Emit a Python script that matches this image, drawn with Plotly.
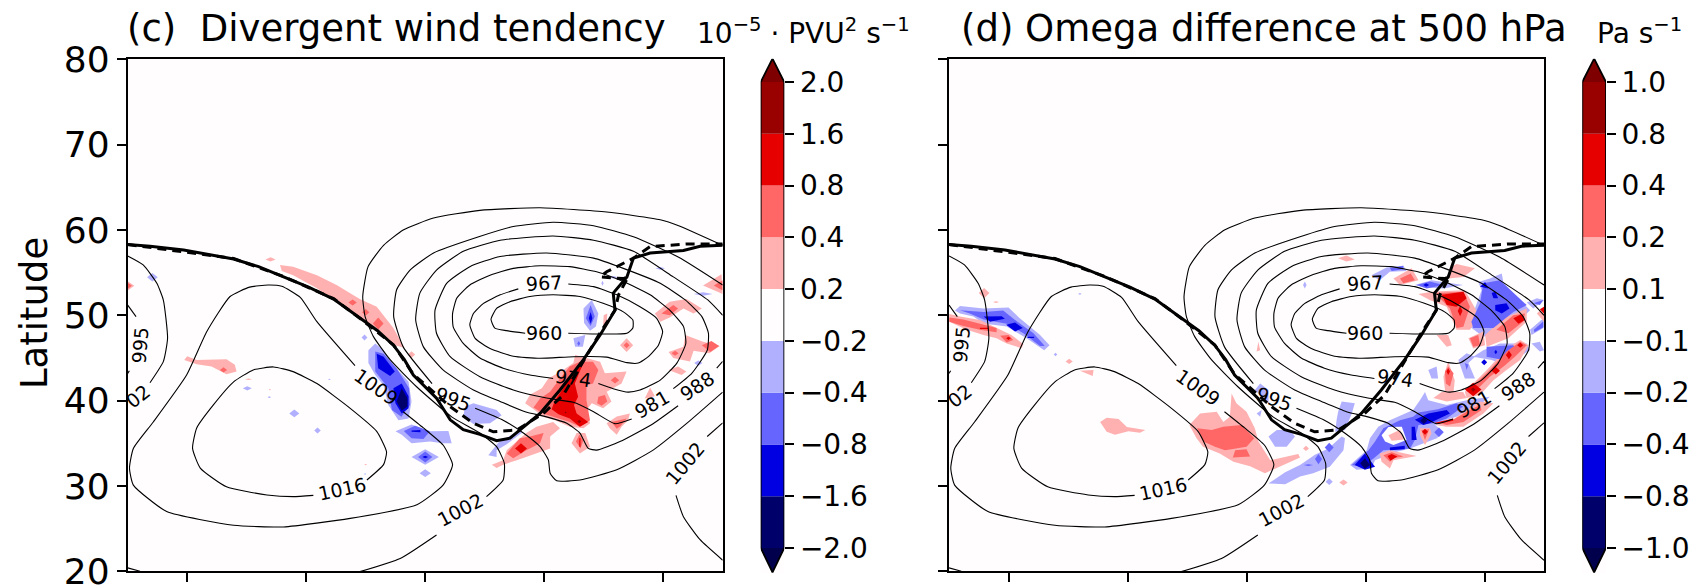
import plotly.graph_objects as go

def d(lon, lat, a, b):
    return [(lon - a, lat), (lon, lat + b), (lon + a, lat), (lon, lat - b)]

# ---------- sea level pressure contours (lon, lat) ----------
P960 = [(66.8,47.89),(63.7,48.2),(61.7,48.5),(61.06,49.53),(62,50.8),(64.25,51.6),(67.6,52.2),(71.5,52.4),(76,52.2),(79.9,51.4),(83.3,50.4),(84.9,49.45),(84.9,48.5),(83.9,47.9),(74.05,47.9)]
P967 = [(74.05,53.67),(78.3,53.36),(82.2,52.4),(86.1,51),(88.9,49.65),(89.9,48.1),(89.2,46.5),(87.5,45.15),(85.8,44.4),(83.9,44.45),(80.5,45.1),(74.9,45.15),(69.3,44.96),(64.8,45.2),(60.9,46.1),(58.4,47.3),(57.5,48.9),(58.1,50.2),(59.8,51.4),(62.6,52.4),(65.65,53.1)]
P974 = [(79.1,42),(81.6,41.4),(84.1,41),(86.1,41.25),(89.5,42.4),(92.3,44.4),(93.8,46.7),(93.4,48.7),(91.1,50.6),(87.8,52.4),(83.3,53.95),(78.8,55.1),(74.3,55.7),(69.3,55.8),(64.8,55.5),(60.9,54.7),(57.5,53.55),(55.3,52),(54.6,50.2),(54.7,48.65),(56.4,46.7),(59.2,45),(63.1,43.8),(67.6,43),(71.5,42.6)]
P981 = [(91.7,41.4),(94.8,43.2),(97.4,45.9),(97.6,47.9),(96.5,49.85),(93.7,51.8),(89.5,53.75),(83.3,55.5),(78.3,56.7),(70.4,57.3),(62.6,56.9),(57.5,55.7),(53.6,53.75),(51.65,50.6),(51.9,47.9),(54.2,45.15),(59.2,42.8),(64.8,41.25),(70.4,40.3),(74.9,39.8),(78.3,38.7),(81.9,37.3),(84.7,37.85)]
P988 = [(92.5,39.4),(88.3,37.3),(82.74,35.2),(78.8,34.2),(77.4,34.4),(76,36.2),(73.8,37.35),(70.4,38.1),(66.8,38.7),(62.6,39.9),(58.1,41.25),(53,43.6),(49.7,46.3),(48.4,49.45),(49.1,52.6),(51.9,55.3),(56.4,57.5),(62.6,58.8),(71.5,59.3),(78.3,58.8),(85,57.5),(91.7,54.5),(97.5,51.8),(100,50)]
P988_R = [(99,43.8),(100,44.6)]
P995 = [(51.15,42),(46.3,46.3),(44.7,49.85),(45.2,53),(47.45,55.3),(51.4,57.3),(59,59.2),(64.8,60.4),(71.5,60.9),(78.3,60.5),(85,59.2),(92.6,56.8),(100,53.55)]
P995_LOW = [(58.4,39.1),(63.1,37.7),(66.5,36.2),(69.3,34.6),(70.7,33.05),(71,31.5),(72.1,30.6),(76,30.7),(82.2,31.9),(88.3,34.2),(93.9,37.3),(100,41)]
P995_W1 = [(0,51.2),(1.4,49.85)]
P995_W2 = [(0.28,43.5),(0,43.2)]
P1002 = [(60.3,28.75),(63.1,30.7),(63.3,32.65),(62,34.6),(59.2,36.2),(54.45,38.1),(48.6,41.6),(44.1,44.8),(41.3,47.5),(39.9,49.85),(39.5,52.2),(40.4,55.7),(43,58.2),(46.3,60),(51.4,61.4),(59.2,62.3),(69.3,62.6),(80.5,62.1),(89.5,61.2),(92.6,60.5),(100,58.2)]
P1002_S = [(51.9,24.26),(45.8,21.5),(39.05,19.96)]
P1002_SW = [(0,20.4),(2.07,20)]
P1002_W = [(0,56.95),(2.6,55.9),(4.9,53.75),(6,51.76),(6.7,47.3),(6,44.6),(3.75,42.1)]
P1002_E1 = [(100,37.4),(97.4,35.8)]
P1002_E2 = [(92.15,28.9),(93.4,26.4),(96.2,23.7),(100,21.3)]
P1009 = [(38.2,44.1),(31.8,49.25),(29,52.1),(25.9,53.4),(23.6,53.55),(20.5,53.3),(17.2,52.2),(13.3,48.1),(9.9,43),(4.3,37.5),(0.95,34.4),(0.3,32.1),(0.95,30.1),(6.55,27),(17.8,25.4),(26.2,25.2),(37.4,26.2),(48.6,27.8),(53,30.1),(54.6,32.5),(53,34.8),(49.7,36.8),(46.3,38.7)]
P1016 = [(31.2,28.9),(27.8,28.75),(23.4,28.95),(16.6,29.9),(12.2,32.1),(10.9,34.4),(11.6,36.8),(14.4,39.5),(17.8,42.2),(21.1,43.6),(24.5,43.95),(27.8,43.4),(31.8,42),(37.4,39.1),(41.85,36.4),(43.5,34),(43,32.5),(40.2,30.7)]
CONTOURS = [P960,P967,P974,P981,P988,P988_R,P995,P995_LOW,P995_W1,P995_W2,P1002,P1002_S,P1002_SW,P1002_W,P1002_E1,P1002_E2,P1009,P1016]

LABEL_TEXT = ["960","967","974","981","988","995","995","1002","02","1002","1009","1016"]
LABEL_LON = [69.9,69.9,74.9,88.2,95.7,54.7,2.1,55.8,1.8,93.7,41.8,36]
LABEL_LAT = [47.9,53.75,42.6,39.55,41.7,40.2,46.5,27.2,40.5,32.65,41.6,29.7]
LABEL_ANGLE = [0,-3,8,-30,-33,20,-85,-28,-38,-50,35,-12]

FRONT_SOLID = [(0,58.3),(3.75,58.1),(9.4,57.65),(17.8,56.6),(22,55.7),(26.2,54.5),(30.4,53.3),(34.6,51.9),(37,50.7),(39.3,49.45),(42,48.2),(44.65,46.5),(46.5,44.8),(48,43),(50,41.6),(51.9,40.3),(54.2,37.75),(56.4,36.6),(59.2,36.05),(62,35.3),(64.25,35.6),(69.3,38.5),(72.65,41.25),(76.6,44.8),(79.4,47.7),(81.9,50.6),(81.6,52.6),(83.9,54.5),(85,56.7),(87.8,57.3),(93.4,57.6),(96.2,58.1),(100,58.2)]
FRONT_DASH = [(0,58.3),(17.8,56.65),(26.2,54.55),(34.6,51.95),(39.3,49.5),(44.65,46.55),(48,43.1),(51.9,40.65),(54.2,39.3),(58.1,37.35),(61.45,36.35),(65.4,36.56),(69.85,38.5),(73.2,40.65),(76.6,44.6),(79.7,48.3),(81.9,50.6),(82.5,52.4),(84.1,54.5),(83.3,54.3),(79.4,54.5),(80.5,55.1),(85,56.7),(87.8,58.05),(93.9,58.35),(100,58.35)]

# ---------- panel (c) shading, one list per colour band ----------
C_LIGHT_RED = [
 [(25.6,55.9),(27.8,55.7),(31.8,54.7),(35.1,53.55),(39,51.9),(41.85,51),(44.65,48.5),(46.5,46.2),(44.9,46.5),(41.85,48.5),(39.6,49.25),(35.7,51.2),(31.8,53.16),(27.8,54.7),(25.9,55.2)],
 d(24,56.55,.85,.25),
 [(9.5,44.75),(10,45.2),(11.6,44.75),(16.6,44.85),(18,44.2),(18.3,43.4),(16.6,43.1),(14.1,44),(11.6,44.25)],
 d(47.7,45.4,.6,.4), d(20.3,42.5,.6,.08), d(40,32.5,.25,.08), d(23.9,41.3,.15,.1),
 [(0,54),(1.1,53.45),(0,52.9)], [(96.7,53.5),(99.8,54.8),(100,52.5)],
 [(75.2,45.35),(79.4,44.55),(80.2,43.2),(83.85,43.4),(83,42),(80.5,41.05),(81.3,39.9),(79.9,39.1),(78,39.7),(77.1,38.9),(77.7,37.35),(76.6,36.75),(74.3,36.95),(71.8,37.7),(69.8,38.1),(68.4,38.9),(66.8,39.7),(67.6,40.7),(69.6,41.45),(70.7,42.6),(73.2,43.6),(74.9,44.4)],
 [(80.5,37.35),(82.2,38.15),(84.4,38.5),(84.1,37.7),(83,36.95),(82.2,36),(81,36.75)],
 d(83.85,46.5,1.1,.8),
 [(88.6,50.2),(91.1,51.6),(93.9,51.9),(96.5,50.8),(95.1,50.2),(93.4,50.8),(91.1,49.75),(89.5,49.25)],
 [(90.9,45.7),(93.4,46.3),(93.7,47.7),(96.7,46.9),(99.5,46.4),(97.75,45.55),(95.1,45.85),(94.5,44.6),(91.7,45)],
 [(90.9,43.6),(92.5,44),(93.9,43.4),(93.1,43)],
 [(87.8,41.55),(88.6,40.5),(86.9,40.25)],
 [(80,50),(80.6,50.2),(80.5,49),(79.9,48.8)],
 [(61.2,32.5),(63.1,33),(63.7,34.2),(67,36.2),(68.7,36.95),(71.5,37.5),(72.65,36.75),(71,35.8),(71,34.4),(68.7,33.8),(65.4,33),(63.1,32.5),(62,32.1)],
 [(74.6,35),(75.45,36.2),(76.9,36.2),(77.7,34.6),(76,33.8)],
]
C_MID_RED = [
 d(37.8,51.5,.7,.35), d(40,50.35,.6,.4), d(42.1,49.05,.9,.7), d(16.1,43.6,.6,.3),
 [(0,53.8),(.7,53.45),(0,53.1)], [(98.5,53.5),(100,54.1),(100,52.9)],
 [(76,44.55),(78.2,44.55),(79.1,43.6),(78.2,42),(77.1,41.8),(77.1,40.05),(77.7,37.7),(76,36.95),(74.3,37.5),(71.8,38.1),(69.8,38.5),(68.2,39.2),(69.3,40.25),(71,41.05),(72.65,42.6),(74.3,44)],
 [(79.1,40.45),(80.2,40.65),(80.6,39.9),(79.65,39.4),(78.9,39.7)],
 d(81.9,42.4,.7,.4),
 [(81.3,37.5),(83.85,37.9),(82.8,37),(82.2,36.7)],
 d(83.85,46.5,.5,.35),
 [(89.7,50.2),(91.7,51.2),(92.5,50.8),(91.1,50)],
 [(96.5,46.5),(98.1,47),(99.4,46.4),(97.9,45.7)], d(92,45.55,.6,.3),
 [(63.7,33.8),(65.9,35.6),(67.6,35.8),(69.9,36.2),(69.3,35),(67,34.2),(64.8,33.25)],
 [(75.35,35.2),(75.9,36),(76.6,35.4),(76.1,34.4)],
]
C_DARK_RED = [
 [(76,44.55),(76.45,44.2),(75.15,42),(75.7,40.45),(75,39.5),(75.45,38.5),(77.4,37.5),(76,36.95),(74.3,37.9),(72.4,38.4),(71.25,39),(71.8,40.05),(73.2,41.45),(74.6,43)],
 d(66.1,34.4,1,.6),
 [(75.9,35.6),(76.1,35.6),(76.1,34.6),(75.9,34.6)],
]
C_DEEP_RED = [d(75.9,37.55,.35,.2), d(73.6,38.6,.2,.12)]
C_LIGHT_BLUE = [
 [(40.45,45.9),(41.6,46.7),(43,45.9),(44.65,44.2),(47.2,42.2),(47.7,39.9),(47.2,37.9),(45.5,37.7),(43.8,39.5),(43,41.8),(41.6,43),(40.45,44.4)],
 [(45,36.4),(47.7,37.2),(50.8,36.4),(53.9,36.45),(54.45,35),(53,35),(50.8,35.2),(47.7,35),(46.05,36)],
 d(50,33.4,2.3,.9), d(50,31.5,.95,.45), d(28,38.5,.85,.45), d(31.9,36.5,.55,.35), d(20.1,41.45,.75,.25),
 d(23.8,40.4,.3,.1), d(33.9,42.5,.25,.07), d(39.8,47.4,.5,.35), d(4.15,54.45,.9,.5), d(39.9,31.4,.2,.08),
 [(56.7,39.3),(58.1,39.7),(62,38.9),(62.85,38.3),(60.9,37.35),(58.1,37.25),(56.4,38.1)],
 [(60.6,33.6),(62.3,35.1),(65.4,36.35),(66.2,37.15),(66.2,36.2),(63.7,34.9),(62,34.2),(62,33.4)],
 [(78,51.8),(79.1,50.2),(78.7,48.7),(77.7,48.2),(76.7,49.1),(76.6,50.8)],
 [(74.9,47.3),(76.9,47.7),(76.5,46.3),(75.2,46.3)],
 d(95.9,44.4,.7,.3), d(96.7,52.5,1.6,.2), d(89.5,55.5,.8,.15), d(81.6,54.45,.8,.15), d(79.8,53.75,.2,.3),
]
C_MID_BLUE = [
 [(41.6,45.75),(43,45.5),(45.2,43.8),(47.3,41.45),(47.45,39.5),(46,38.1),(44.4,38.9),(43.8,41.45),(41.6,43.4)],
 [(46.4,36.45),(48.3,37.05),(50.8,36.4),(49.7,35.5),(47.7,35.6)],
 d(50,33.4,1.2,.65),
 [(77.8,51.2),(78.5,49.85),(77.8,48.75),(77,49.65)], d(75.8,46.7,.25,.3),
]
C_DARK_BLUE = [
 [(41.85,45.5),(43,45.15),(44.9,43.4),(44.1,42.9),(42.1,43.8)],
 [(44.65,41.45),(46.05,42),(47.2,40.5),(47.2,39.1),(46.05,38.5),(45,39.7)],
 [(47.7,36.5),(49.2,36.55),(49.2,36.3),(47.7,36.35)], d(50,33.4,.5,.15),
 [(77.8,50.4),(78.1,49.65),(77.8,49),(77.5,49.65)],
]
C_DEEP_BLUE = [[(46.05,41.45),(47,40.3),(47,39.3),(46.05,38.8),(45.2,39.9)]]

# ---------- panel (d) shading ----------
D_LIGHT_BLUE = [
 [(1,50.55),(1.85,51.1),(5.8,50.8),(10,50.9),(11.9,49.65),(15.3,47.7),(16.9,46.5),(16,45.9),(13.05,47.3),(9.7,48.7),(5.8,49.05),(4.1,49.85),(1.85,50.2)],
 d(17.9,45.4,.3,.2), d(22,52.5,.3,.1),
 [(53.7,35.8),(55.1,36.55),(57.3,36.55),(58.15,35.8),(56.75,34.6),(54.8,34.6)],
 [(51.7,38.5),(52.55,38.9),(52.3,38.1)], [(51.4,41.25),(52.3,42),(53.7,41.25),(53.7,39.7)],
 [(65.4,38.7),(66,39.9),(68.2,39.7),(67.7,38.5),(66.55,36.55),(64.9,36.35),(65.15,37.75)],
 [(53.7,30.3),(56.5,31.6),(59,32.45),(61.5,33.65),(63.75,34.4),(66,35.8),(66.55,35.6),(66.3,34.2),(64,32.25),(61.2,31.5),(59,31.1),(56.5,30.2)],
 [(67.4,32.45),(70.2,34.2),(70.75,35.6),(72.15,36.95),(74.1,37.7),(78,38.9),(79.15,40.05),(80,41),(80.55,40.05),(83.65,39.5),(87,40.05),(90.9,40.45),(88.1,38.9),(85.3,38.1),(83.65,37.75),(81.7,37.15),(83.1,36.35),(82,35.6),(80.55,35.2),(79.15,34.8),(77.5,34.4),(75.25,34),(71.6,33),(71,32.05),(68.5,31.9)],
 [(71,54.7),(73.55,55.6),(76.35,55.8),(76.9,55.2),(74.1,55.1),(72.4,54.1)], d(59.8,53.55,.3,.4),
 [(78.3,53.55),(81.1,54.1),(86.4,53.55),(83.1,53.15),(79.7,53.3)],
 [(88.95,53.9),(90.9,54.3),(92.9,54.9),(93.2,53.75),(97.65,50.6),(94.85,48.65),(92,47.9),(89.8,47.5),(87.55,48.65),(88.1,50.2),(89.5,52.95)],
 [(89.8,45.9),(92.6,46.7),(97.1,46.7),(97.65,45.9),(94.85,44.75),(93.2,44.2),(91.2,44.75),(88.1,45.15)],
 [(80.55,43.6),(81.95,44),(82.2,42.6),(81.1,42.6)],
 [(85.6,44.75),(87,45.55),(88.4,45.15),(87.3,44.4),(88.4,42.6),(86.7,42.6)],
 [(97.1,51.5),(98.8,52),(100,51.8),(98.2,50.8)], [(97.65,48.3),(99.9,49.65),(99.9,48.5),(97.9,47.7)],
 [(97.9,46.7),(99.3,46.9),(100,45.9),(99.3,45.75)], d(63.9,30.5,.6,.4),
]
D_LIGHT_RED = [
 [(0.05,50.15),(1.85,49.85),(5.2,49.45),(8,48.5),(10.5,47.7),(12.5,46.6),(12.2,46.15),(9.7,46.7),(8,47.3),(5.8,47.7),(3,48.3),(0.05,49.25)],
 d(5.9,52.6,.9,.6), d(7.9,51.55,.5,.1), d(20.2,44.6,.6,.3),
 [(22,43.5),(24.3,43.6),(24.15,42.9)],
 [(25.4,37.5),(26.5,38),(28.5,37.85),(29.9,36.9),(33,36.55),(32.1,36.25),(30.15,36.4),(27.9,36),(26.5,36.35)],
 [(40.4,37.15),(42.2,38.5),(45,38.7),(46.1,37.5),(47.2,38.1),(47.5,40.85),(48.3,39.7),(50,38.7),(51.4,36.75),(52,35.2),(54,33),(58.7,33.75),(59,33.35),(55.1,32.1),(53.1,31.5),(50.6,32.3),(47.8,32.85),(45.5,33.8),(42.7,34.6),(41.6,35.6)],
 [(52,46.9),(52.3,45.9),(51.7,45.75)],
 [(72.4,33.8),(74.1,34.2),(78.6,33.5),(74.7,33),(74.1,32.05),(72.7,32.85)],
 [(79.15,36.75),(80.85,36.75),(81.1,36.15),(80,34.8),(79.15,35.95)],
 [(86.7,41.05),(90.4,43.6),(93.7,46.1),(96,47.1),(97.4,46.5),(96,44.75),(93.7,43.6),(91.5,42.4),(89.25,40.65),(87,40.3)],
 [(81.4,40.3),(82.8,41),(86.4,41),(87,40.3),(83.65,39.9)],
 [(83.1,42.8),(83.9,44.6),(85,42.4),(84.8,41.05),(83.4,41.05)],
 [(81.7,37.15),(84.2,37.5),(86.45,38.7),(89.2,39.9),(91.5,39.7),(89.8,38.5),(86.45,36.95),(83.65,36.95)],
 [(65.4,56.7),(66.8,57),(68.2,56.55),(66.8,56.3)],
 [(74.7,54.3),(77.75,55.5),(78.9,54.1),(75.8,53.55)],
 [(84.5,55.7),(85.3,56),(88.4,55.5),(86.45,54.5),(83.9,54.3)],
 [(78.9,52.5),(81.4,52.8),(86.7,52.95),(89.2,49.85),(87.55,48.3),(85.3,48.3),(83.65,51),(80.8,51.8)],
 [(81.95,47.7),(83.9,47.7),(84.5,46.5),(83.65,46.3)],
 [(90.1,47.7),(93.2,49.65),(97.1,50.8),(97.1,49.25),(94,47.3),(90.35,46.3)],
 [(87.3,47.3),(89.8,48.1),(90.1,46.5),(88.1,46.1)],
 [(98.8,50.2),(100,51),(100,49.25)], d(66.3,30.4,.7,.35), d(60,34.4,.5,.3),
]
D_MID_BLUE = [
 [(1.85,50.6),(5.8,50.4),(9.1,50.55),(11.1,49.45),(14.2,47.9),(16.1,46.4),(15.3,46.4),(12.5,47.9),(9.7,49),(5.8,49.5),(3.5,50.2)],
 d(62.1,33.15,.6,.6), d(63.9,34.5,.75,.55), d(60.4,32.45,.8,.1), d(82.35,36.3,.8,.55),
 [(71.6,35.2),(73,36.75),(75.8,37.7),(78,38.1),(78.9,38.6),(82.2,39),(85.3,39.7),(86.4,39.3),(83.65,37.9),(81.4,37.35),(78.9,37.15),(78.3,35.4),(77.5,34.4),(73,34.2),(71.3,33.2),(69.35,32.25),(67.7,32.45),(70.5,34.2)],
 [(74.1,55.5),(76.35,55.8),(76.35,55.4),(74.4,55.2)],
 [(78.6,53.55),(80.8,53.95),(83.1,53.55),(80.3,53.15)],
 [(89.8,53.75),(92.6,54.1),(97.1,51.2),(94.85,50.4),(91.5,48.5),(88.1,48.5),(87.8,49.25),(89.25,51.4)],
 [(90.35,46.3),(94.85,46.5),(95.4,45.9),(93.2,44.75),(90.35,45.15)],
 [(86.7,44.4),(87.3,44.2),(87,43.6)], [(98.2,51.4),(99.9,51.8),(99.3,51.2)],
 [(98.3,48.3),(99.9,49.3),(99.9,48.6),(98.4,48)],
]
D_GAP = [[(72.7,35.95),(73.85,36.9),(76.1,36.95),(76.9,35.4),(74.7,34.8),(73.3,35.2)]]
D_GAP_RED = [[(73.85,35.95),(75.8,36.6),(76.5,35.45),(74.4,35.3)]]
D_MID_RED = [
 [(0.05,49.75),(2.4,49.5),(5.2,49),(8,48.5),(8,48),(5.2,48.3),(2.4,48.75),(0.05,49.25)],
 [(8.6,47.6),(10,47.7),(10.8,47.1),(9.7,46.8)],
 [(41.7,36.75),(44.15,36.55),(46.1,36.95),(49.2,37.15),(51.3,35.6),(50,34.6),(46.4,34.2),(44.7,34.6),(42.75,35.2)],
 [(48.1,34.2),(50,34.3),(50.6,33.45),(47.7,33.35)],
 [(73,33.6),(74.4,33.95),(76.35,33.45),(74.7,33.25),(74.1,32.85)],
 [(79.4,36.55),(80.7,36.65),(80,35.4)],
 [(87.3,41.25),(90.65,43.4),(93.7,45.75),(96,46.9),(97.1,46.5),(95.1,45.15),(93.2,44),(90.9,42.8),(89.25,41.65),(87.55,40.85)],
 [(83.35,43.4),(83.9,44),(84.8,43.2),(84.2,41.65),(83.5,42)],
 [(82.5,37.35),(84.75,37.75),(87,38.7),(89.2,39.5),(89.5,38.9),(86.45,37.5),(83.65,37.15)],
 [(75.8,54.3),(77.6,54.9),(78.3,54.1),(76.35,53.75)],
 [(81.95,52.6),(86.45,52.75),(87.55,51),(86.45,48.65),(85.3,48.5),(84.2,50.8),(82.8,51.8)],
 [(92,48.3),(94.85,50),(96.8,50.2),(96.5,49.25),(94,47.9)],
 [(87.55,47.3),(88.95,47.7),(89.25,46.5),(88.1,46.3)],
]
D_DARK_BLUE = [
 [(5.8,49.85),(8.85,49.9),(9.4,49.6),(6.9,49.25)], [(9.6,48.9),(11.1,49.15),(12.4,48.5),(11.1,48.1)],
 [(13.2,47.5),(14.3,47.5),(14.3,47.35),(13.2,47.35)],
 [(74.1,34.5),(76.6,34.7),(76.6,34.3),(74.1,34.2)],
 [(68.2,32.45),(69.9,33.8),(71.6,32.25),(69.9,31.9)],
 [(78.3,37.75),(80.55,38.5),(83.65,38.9),(84.2,38.5),(81.95,37.75),(80.8,37.35),(79.7,37.15)],
 [(77.75,36.95),(78.3,36.95),(78.6,35.4),(77.75,35.4)], d(80.2,53.55,.5,.2),
 [(89.25,53.35),(90.1,53.9),(90.65,53.15)], [(91.2,52.6),(91.8,52.75),(92.3,52),(91.5,52)],
 [(91.8,51.2),(93.7,51.4),(94.2,50.8),(92.9,50.2),(91.8,50.6)],
 d(89.95,44.5,.5,.35), d(91.9,45.7,.25,.25),
]
D_DARK_RED = [
 [(5.2,48.55),(6.6,48.55),(6.6,48.4),(5.2,48.4)], d(10,47.3,.4,.2),
 [(73.7,33.5),(74.4,33.75),(75.35,33.45),(74.2,32.95)], d(80,36.35,.5,.35),
 d(88.1,41.3,1.4,.8), d(91.9,43.5,.7,.45), d(94.1,45.35,.5,.5), d(96,46.5,.5,.3),
 d(83.9,43.4,.3,.4),
 [(81.7,37.4),(84.75,37.9),(84.75,37.65),(82,37.25)],
 [(82.8,52.4),(86.45,52.75),(87,52),(85.3,51),(83.65,51.2)], d(85.9,50.5,.4,.6),
 [(94.85,49.65),(96.25,50.15),(96.8,49.45),(95.7,49)],
 [(99.3,50.7),(100,51),(100,50.2)],
]
D_DEEP_BLUE = [[(69.1,32.65),(69.9,33.25),(70.75,32.45),(69.9,32)], d(79.8,37.65,.6,.4)]
D_DEEP_RED = [d(88.1,41.3,.4,.25)]

# ---------- colour bars ----------
CB_C_LEVELS = ["−2.0","−1.6","−0.8","−0.4","−0.2","0.2","0.4","0.8","1.6","2.0"]
CB_D_LEVELS = ["−1.0","−0.8","−0.4","−0.2","−0.1","0.1","0.2","0.4","0.8","1.0"]
CB_COLORS = ["#00006B","#0000E2","#6666FF","#B0B0FF","#FFFDFE","#FFB0B0","#FF6666","#E60000","#990000"]
TIP_LOW, TIP_HIGH = "#00004C", "#7F0000"

TITLE_C = "(c)  Divergent wind tendency"
TITLE_D = "(d) Omega difference at 500 hPa"
UNIT_C = "10<sup>−5</sup> · PVU<sup>2</sup> s<sup>−1</sup>"
UNIT_D = "Pa s<sup>−1</sup>"
YLABEL = "Latitude"
LAT_TICKS = [20,30,40,50,60,70,80]
LON_TICKS = [10,30,50,70,90]

W, H = 1697, 588
FONT = "DejaVu Sans"
BG = "#FFFDFE"
def xd(a, b): return [a / W, b / W]
def yd(top, bottom): return [1 - bottom / H, 1 - top / H]

fig = go.Figure()

def unzip(polys):
    xs, ys = [], []
    for p in polys:
        xs += [q[0] for q in p] + [p[0][0], None]
        ys += [q[1] for q in p] + [p[0][1], None]
    return xs, ys

def fill(polys, color, ax):
    xs, ys = unzip(polys)
    fig.add_trace(go.Scatter(x=xs, y=ys, mode="lines", fill="toself", fillcolor=color,
                             line=dict(width=0, color=color), xaxis="x"+ax, yaxis="y"+ax,
                             hoverinfo="skip", showlegend=False))

def lines(ax):
    for c in CONTOURS:
        fig.add_trace(go.Scatter(x=[q[0] for q in c], y=[q[1] for q in c], mode="lines",
                                 line=dict(color="black", width=1.1, shape="spline", smoothing=0.5),
                                 xaxis="x"+ax, yaxis="y"+ax, hoverinfo="skip", showlegend=False))
    for fr, dash in ((FRONT_SOLID, "solid"), (FRONT_DASH, "9px,6px")):
        fig.add_trace(go.Scatter(x=[q[0] for q in fr], y=[q[1] for q in fr], mode="lines",
                                 line=dict(color="black", width=3, dash=dash),
                                 xaxis="x"+ax, yaxis="y"+ax, hoverinfo="skip", showlegend=False))
    for t, lo, la, an in zip(LABEL_TEXT, LABEL_LON, LABEL_LAT, LABEL_ANGLE):
        fig.add_annotation(x=lo, y=la, xref="x"+ax, yref="y"+ax, text=t, textangle=an, showarrow=False,
                           font=dict(family=FONT, size=19, color="black"))

for polys, col in ((C_LIGHT_BLUE,"#B0B0FF"),(C_LIGHT_RED,"#FFB0B0"),(C_MID_BLUE,"#6666FF"),(C_MID_RED,"#FF6666"),
                   (C_DARK_BLUE,"#0000E2"),(C_DARK_RED,"#E60000"),(C_DEEP_BLUE,"#00006B"),(C_DEEP_RED,"#990000")):
    fill(polys, col, "")
lines("")
for polys, col in ((D_LIGHT_BLUE,"#B0B0FF"),(D_LIGHT_RED,"#FFB0B0"),(D_MID_BLUE,"#6666FF"),(D_GAP,BG),(D_GAP_RED,"#FFB0B0"),(D_MID_RED,"#FF6666"),
                   (D_DARK_BLUE,"#0000E2"),(D_DARK_RED,"#E60000"),(D_DEEP_BLUE,"#00006B"),(D_DEEP_RED,"#990000")):
    fill(polys, col, "2")
lines("2")

def colorbar(ax):
    n = len(CB_COLORS)
    fig.add_trace(go.Bar(x=[0]*n, y=[1]*n, base=list(range(n)), width=1, marker=dict(color=CB_COLORS, line=dict(width=0)),
                         xaxis="x"+ax, yaxis="y"+ax, hoverinfo="skip", showlegend=False))
    for tip, col, yy in ((-0.47, TIP_LOW, 0), (n + 0.45, TIP_HIGH, n)):
        fig.add_trace(go.Scatter(x=[-.5, 0, .5, -.5], y=[yy, tip, yy, yy], mode="lines", fill="toself", fillcolor=col,
                                 line=dict(width=0, color=col), xaxis="x"+ax, yaxis="y"+ax, hoverinfo="skip", showlegend=False))
    fig.add_trace(go.Scatter(x=[-.5, 0, .5, .5, 0, -.5, -.5], y=[0, -0.47, 0, n, n + 0.45, n, 0], mode="lines",
                             line=dict(color="black", width=1.8), xaxis="x"+ax, yaxis="y"+ax,
                             hoverinfo="skip", showlegend=False, cliponaxis=False))

colorbar("3")
colorbar("4")

tick = dict(ticks="outside", ticklen=9, tickwidth=1.7, tickcolor="black", automargin=False, ticklabeloverflow="allow")
map_x = dict(range=[0,100], tickvals=LON_TICKS, showticklabels=False, showgrid=False, zeroline=False,
             showline=True, linecolor="black", linewidth=1.8, mirror=True, **tick)
map_y = dict(range=[20,80], tickvals=LAT_TICKS, showgrid=False, zeroline=False,
             showline=True, linecolor="black", linewidth=1.8, mirror=True, **tick)
bar_x = dict(range=[-.5,.5], visible=False, fixedrange=True, automargin=False)
def bar_y(labels, anchor):
    return dict(range=[-0.483, 9.45], tickvals=list(range(10)), ticktext=labels, side="right", anchor=anchor,
                showgrid=False, zeroline=False, showline=False, tickfont=dict(family=FONT, size=28, color="black"), **tick)

fig.update_layout(
    width=W, height=H, autosize=False, margin=dict(l=0, r=0, t=0, b=0),
    paper_bgcolor="white", plot_bgcolor=BG, showlegend=False, barmode="overlay",
    font=dict(family=FONT, color="black"),
    xaxis=dict(domain=xd(127.7,722.7), anchor="y", **map_x),
    yaxis=dict(domain=yd(59.3,571.3), anchor="x", tickfont=dict(family=FONT, size=36, color="black"), **map_y),
    xaxis2=dict(domain=xd(949,1544), anchor="y2", **map_x),
    yaxis2=dict(domain=yd(59.3,571.3), anchor="x2", showticklabels=False, **map_y),
    xaxis3=dict(domain=xd(760.7,784.3), anchor="y3", **bar_x),
    yaxis3=dict(domain=yd(58.7,573), **bar_y(CB_C_LEVELS, "x3")),
    xaxis4=dict(domain=xd(1582.3,1606), anchor="y4", **bar_x),
    yaxis4=dict(domain=yd(58.7,573), **bar_y(CB_D_LEVELS, "x4")),
)

fig.add_annotation(x=34/W, y=1-313/H, xref="paper", yref="paper", text=YLABEL, textangle=-90, showarrow=False,
                   xanchor="center", yanchor="middle", font=dict(family=FONT, size=37, color="black"))
for txt, left, baseline, size in ((TITLE_C,125,52,37),(TITLE_D,959,52,37),(UNIT_C,695,52,28),(UNIT_D,1595,52,28)):
    fig.add_annotation(x=left/W, y=1-baseline/H, xref="paper", yref="paper", xanchor="left", yanchor="bottom",
                       text=txt, showarrow=False, align="left",
                       font=dict(family=FONT, size=size, color="black"))

fig.write_html("out.html", config=dict(displayModeBar=False),
               post_script="document.body.style.margin='0';document.documentElement.style.overflow='hidden';")
